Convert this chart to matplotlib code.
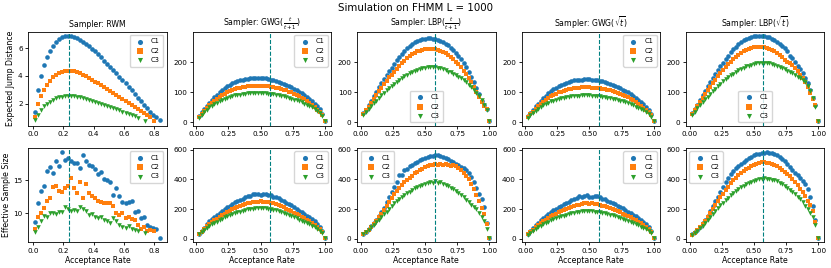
import matplotlib
matplotlib.use("Agg")
import matplotlib.pyplot as plt

# ---------------- data ----------------
series_names = ["C1", "C2", "C3"]
suptitle = "Simulation on FHMM L = 1000"
titles = ["Sampler: RWM", r"Sampler: GWG($\frac{t}{t+1}$)", r"Sampler: LBP($\frac{t}{t+1}$)",
          r"Sampler: GWG($\sqrt{t}$)", r"Sampler: LBP($\sqrt{t}$)"]
row_ylabels = ["Expected Jump Distance", "Effective Sample Size"]
xlabel = "Acceptance Rate"
optimal_rate = [0.234, 0.574, 0.574, 0.574, 0.574]

# RWM acceptance rates (differ per chain)
rwm_x_c1 = [0.01, 0.03, 0.05, 0.07, 0.09, 0.11, 0.13, 0.15, 0.17, 0.19, 0.21, 0.23, 0.25, 0.27,
            0.29, 0.31, 0.33, 0.35, 0.37, 0.39, 0.41, 0.43, 0.45, 0.47, 0.49, 0.51, 0.53, 0.55,
            0.57, 0.59, 0.61, 0.63, 0.65, 0.67, 0.69, 0.71, 0.73, 0.75, 0.77, 0.79, 0.81, 0.84]
rwm_x_c2 = [0.01, 0.03, 0.05, 0.07, 0.09, 0.11, 0.13, 0.15, 0.17, 0.19, 0.21, 0.23, 0.25, 0.27,
            0.29, 0.31, 0.33, 0.35, 0.37, 0.39, 0.41, 0.43, 0.45, 0.47, 0.49, 0.51, 0.53, 0.55,
            0.57, 0.59, 0.61, 0.63, 0.65, 0.67, 0.69, 0.71, 0.73, 0.75, 0.77, 0.80]
rwm_x_c3 = [0.01, 0.03, 0.05, 0.07, 0.09, 0.11, 0.13, 0.15, 0.17, 0.19, 0.21, 0.23, 0.25, 0.27,
            0.29, 0.31, 0.33, 0.35, 0.37, 0.39, 0.41, 0.43, 0.45, 0.47, 0.49, 0.51, 0.53, 0.55,
            0.57, 0.59, 0.61, 0.63, 0.65, 0.67, 0.69, 0.74]

rwm_ejd_c1 = [1.4, 3.0, 4.0, 4.75, 5.35, 5.75, 6.15, 6.45, 6.65, 6.8, 6.85, 6.87, 6.85, 6.8,
              6.72, 6.6, 6.45, 6.3, 6.12, 5.93, 5.75, 5.55, 5.33, 5.1, 4.88, 4.65, 4.42, 4.18,
              3.94, 3.7, 3.45, 3.2, 2.95, 2.7, 2.44, 2.18, 1.92, 1.66, 1.42, 1.2, 1.05, 0.8]
rwm_ejd_c2 = [1.05, 1.95, 2.55, 3.0, 3.35, 3.65, 3.9, 4.07, 4.22, 4.3, 4.35, 4.38, 4.36, 4.32,
              4.26, 4.18, 4.08, 3.97, 3.85, 3.72, 3.58, 3.45, 3.31, 3.17, 3.03, 2.89, 2.75, 2.61,
              2.47, 2.33, 2.19, 2.05, 1.91, 1.77, 1.63, 1.49, 1.35, 1.2, 1.07, 0.78]
rwm_ejd_c3 = [0.8, 1.2, 1.55, 1.8, 2.0, 2.15, 2.28, 2.38, 2.45, 2.5, 2.53, 2.55, 2.54, 2.52,
              2.49, 2.45, 2.4, 2.34, 2.28, 2.21, 2.14, 2.07, 2.0, 1.92, 1.84, 1.76, 1.68, 1.6,
              1.52, 1.43, 1.35, 1.26, 1.17, 1.08, 0.99, 0.72]

rwm_ess_c1 = [8.7, 11.6, 13.4, 14.2, 16.5, 17.1, 16.1, 17.9, 17.2, 19.3, 18.1, 18.4, 17.9, 17.6,
              17.6, 16.9, 18.9, 17.9, 17.4, 17.2, 16.7, 16.0, 16.3, 15.2, 15.1, 14.75, 12.8, 13.9,
              12.6, 11.7, 11.5, 11.8, 11.9, 10.2, 10.3, 9.3, 9.5, 8.2, 8.0, 7.8, 7.6, 6.3]
rwm_ess_c2 = [7.67, 9.4, 10.1, 10.8, 11.9, 12.4, 14.0, 14.2, 13.4, 13.2, 13.8, 14.2, 15.3, 13.8,
              13.1, 14.75, 12.4, 14.4, 13.1, 12.6, 12.4, 11.9, 11.8, 11.6, 11.6, 11.5, 11.1, 10.0,
              9.8, 10.1, 9.3, 9.4, 9.2, 9.0, 8.3, 7.6, 7.9, 7.3, 7.5, 7.3]
rwm_ess_c3 = [7.1, 8.0, 8.8, 9.6, 9.5, 10.1, 10.1, 9.9, 10.15, 10.15, 10.9, 10.6, 10.4, 10.5,
              10.4, 11.0, 10.6, 10.4, 9.8, 9.9, 9.5, 9.3, 9.5, 9.0, 8.9, 8.5, 9.3, 8.8,
              8.3, 8.0, 7.8, 8.1, 7.6, 7.4, 7.3, 7.0]

# acceptance-rate grid for the locally balanced samplers
acc_grid = [0.02, 0.04, 0.06, 0.08, 0.10, 0.12, 0.14, 0.16, 0.18, 0.20,
            0.22, 0.24, 0.26, 0.28, 0.30, 0.32, 0.34, 0.36, 0.38, 0.40,
            0.42, 0.44, 0.46, 0.48, 0.50, 0.52, 0.54, 0.56, 0.58, 0.60,
            0.62, 0.64, 0.66, 0.68, 0.70, 0.72, 0.74, 0.76, 0.78, 0.80,
            0.82, 0.84, 0.86, 0.88, 0.90, 0.92, 0.94, 0.96, 0.98, 1.00]

gwg_frac_ejd_c1 = [21, 33, 44, 55, 65, 74, 83, 92, 100, 108, 114, 120, 125, 129, 133, 136, 139, 141, 143, 145,
                   146, 147, 148, 148, 147, 147, 146, 144, 142, 140, 137, 134, 131, 128, 125, 121, 116, 112, 107, 102,
                   96, 90, 84, 77, 70, 62, 53, 43, 28, 2]
gwg_frac_ejd_c2 = [16, 27, 37, 47, 56, 64, 71, 78, 84, 90, 95, 99, 103, 107, 110, 113, 115, 117, 118, 119,
                   120, 121, 121, 121, 121, 120, 120, 119, 118, 117, 115, 113, 111, 108, 106, 102, 99, 95, 91, 86,
                   81, 76, 70, 64, 57, 50, 42, 33, 22, 3]
gwg_frac_ejd_c3 = [14, 24, 33, 41, 49, 55, 60, 65, 70, 74, 77, 80, 83, 86, 89, 91, 92, 94, 95, 96,
                   96, 97, 97, 97, 97, 96, 96, 95, 94, 93, 91, 89, 87, 86, 84, 81, 78, 75, 73, 70,
                   66, 62, 58, 54, 49, 43, 37, 29, 19, 3]

lbp_frac_ejd_c1 = [30, 42, 57, 72, 86, 101, 116, 130, 144, 157, 170, 182, 194, 206, 217, 228, 237, 246, 254, 261,
                   267, 272, 275, 277, 279, 280, 280, 279, 277, 275, 272, 268, 262, 256, 249, 240, 231, 221, 210, 197,
                   183, 168, 152, 134, 114, 93, 72, 58, 45, 3]
lbp_frac_ejd_c2 = [28, 39, 52, 65, 78, 91, 103, 115, 127, 138, 149, 159, 169, 179, 188, 197, 205, 213, 220, 226,
                   231, 236, 239, 242, 244, 245, 245, 245, 244, 242, 239, 235, 230, 224, 217, 210, 202, 193, 183, 172,
                   160, 147, 133, 118, 101, 84, 67, 55, 44, 3]
lbp_frac_ejd_c3 = [25, 34, 44, 54, 63, 72, 81, 90, 98, 106, 114, 121, 128, 135, 141, 147, 153, 158, 163, 167,
                   171, 175, 178, 180, 182, 183, 184, 184, 183, 182, 180, 177, 173, 169, 166, 162, 157, 152, 146, 140,
                   133, 125, 117, 108, 98, 86, 73, 58, 42, 3]

gwg_sqrt_ejd_c1 = [20, 31, 42, 53, 62, 71, 80, 88, 96, 103, 110, 115, 120, 125, 128, 132, 134, 137, 139, 140,
                   141, 142, 143, 143, 143, 142, 141, 140, 138, 136, 133, 130, 127, 124, 121, 117, 113, 108, 104, 99,
                   93, 87, 81, 75, 68, 60, 51, 41, 27, 2]
gwg_sqrt_ejd_c2 = [16, 26, 35, 45, 53, 61, 68, 75, 81, 86, 91, 95, 99, 102, 105, 108, 110, 112, 113, 114,
                   115, 116, 116, 116, 116, 115, 115, 114, 113, 112, 110, 108, 106, 104, 101, 98, 95, 91, 87, 83,
                   78, 73, 67, 62, 55, 48, 41, 32, 22, 3]
gwg_sqrt_ejd_c3 = [13, 22, 30, 38, 45, 51, 56, 61, 65, 69, 72, 75, 78, 80, 82, 84, 85, 86, 87, 88,
                   88, 89, 89, 89, 89, 88, 88, 87, 86, 85, 84, 82, 80, 78, 76, 74, 72, 69, 66, 63,
                   60, 56, 52, 48, 44, 39, 33, 26, 18, 3]

lbp_sqrt_ejd_c1 = [30, 43, 58, 74, 89, 104, 119, 133, 147, 161, 174, 187, 199, 211, 222, 233, 243, 252, 260, 267,
                   273, 278, 282, 285, 287, 288, 288, 288, 287, 285, 283, 279, 274, 268, 262, 255, 247, 238, 222, 213,
                   200, 188, 176, 163, 148, 130, 108, 82, 56, 3]
lbp_sqrt_ejd_c2 = [28, 40, 53, 67, 80, 93, 106, 118, 130, 142, 153, 164, 174, 184, 193, 202, 210, 218, 225, 231,
                   237, 241, 245, 248, 250, 251, 251, 251, 250, 248, 245, 241, 236, 230, 224, 217, 209, 200, 196, 190,
                   180, 170, 159, 147, 133, 117, 98, 77, 57, 3]
lbp_sqrt_ejd_c3 = [25, 35, 46, 56, 66, 76, 85, 94, 103, 112, 120, 128, 136, 143, 150, 156, 162, 168, 173, 178,
                   182, 186, 189, 192, 194, 196, 197, 198, 198, 197, 196, 194, 191, 188, 185, 181, 177, 172, 167, 163,
                   158, 152, 146, 140, 133, 120, 103, 82, 52, 3]

gwg_frac_ess_c1 = [35, 55, 75, 98, 118, 131, 146, 160, 172, 186, 198, 212, 222, 232, 245, 253, 262, 270, 282, 287,
                   290, 300, 304, 301, 297, 299, 303, 293, 296, 284, 283, 272, 262, 255, 244, 232, 226, 214, 203, 190,
                   181, 169, 157, 146, 131, 118, 101, 80, 55, 9]
gwg_frac_ess_c2 = [32, 48, 66, 84, 98, 112, 124, 137, 148, 159, 170, 180, 190, 198, 206, 214, 222, 228, 233, 238,
                   243, 246, 250, 248, 252, 249, 251, 246, 243, 239, 233, 226, 218, 212, 203, 194, 186, 177, 168, 158,
                   148, 139, 128, 118, 107, 95, 82, 66, 45, 9]
gwg_frac_ess_c3 = [30, 44, 59, 73, 85, 97, 107, 117, 127, 135, 144, 151, 159, 166, 172, 178, 184, 189, 193, 198,
                   200, 204, 206, 207, 208, 206, 207, 203, 201, 196, 192, 186, 180, 174, 167, 160, 153, 146, 138, 130,
                   122, 114, 105, 97, 88, 78, 67, 55, 40, 8]

lbp_frac_ess_c1 = [32, 48, 66, 85, 106, 128, 152, 180, 210, 247, 283, 318, 350, 382, 428, 432, 462, 470, 488, 497,
                   510, 516, 530, 537, 545, 552, 556, 560, 567, 562, 558, 552, 545, 535, 525, 515, 503, 495, 485, 475,
                   460, 443, 415, 380, 345, 305, 265, 215, 110, 9]
lbp_frac_ess_c2 = [30, 46, 63, 82, 102, 123, 145, 168, 192, 218, 245, 272, 300, 322, 342, 362, 380, 398, 412, 425,
                   440, 452, 462, 470, 480, 488, 494, 500, 502, 495, 505, 500, 503, 497, 490, 495, 490, 478, 462, 446,
                   425, 400, 370, 335, 298, 255, 210, 170, 100, 9]
lbp_frac_ess_c3 = [30, 44, 60, 77, 95, 112, 130, 148, 165, 183, 200, 218, 238, 255, 268, 280, 292, 310, 318, 330,
                   340, 350, 355, 365, 370, 378, 382, 375, 387, 378, 380, 370, 365, 355, 345, 335, 320, 310, 295, 280,
                   262, 245, 230, 215, 200, 175, 150, 118, 65, 9]

gwg_sqrt_ess_c1 = [33, 53, 72, 93, 110, 126, 141, 154, 168, 180, 192, 203, 214, 224, 233, 242, 250, 262, 268, 274,
                   286, 281, 289, 292, 281, 284, 291, 287, 280, 271, 266, 258, 250, 243, 233, 224, 216, 205, 195, 184,
                   174, 163, 151, 140, 127, 114, 98, 78, 54, 9]
gwg_sqrt_ess_c2 = [30, 46, 62, 78, 93, 106, 118, 130, 141, 151, 161, 170, 178, 187, 194, 202, 208, 214, 220, 226,
                   231, 236, 238, 240, 236, 238, 233, 232, 228, 224, 219, 213, 207, 200, 193, 186, 178, 170, 162, 153,
                   144, 135, 125, 115, 104, 93, 80, 65, 45, 9]
gwg_sqrt_ess_c3 = [28, 41, 54, 67, 79, 89, 99, 108, 116, 124, 131, 138, 145, 151, 157, 162, 167, 172, 176, 180,
                   184, 186, 189, 190, 187, 189, 184, 183, 181, 177, 173, 169, 164, 159, 153, 148, 142, 135, 128, 121,
                   114, 107, 99, 91, 83, 74, 64, 52, 38, 8]

lbp_sqrt_ess_c1 = [30, 45, 62, 82, 104, 128, 155, 185, 218, 252, 285, 318, 350, 380, 408, 433, 455, 474, 490, 505,
                   518, 530, 542, 552, 562, 568, 573, 576, 580, 583, 578, 575, 568, 562, 552, 538, 524, 505, 485, 465,
                   445, 428, 410, 392, 370, 335, 285, 220, 130, 9]
lbp_sqrt_ess_c2 = [28, 43, 60, 79, 100, 122, 147, 172, 198, 225, 252, 280, 305, 330, 352, 374, 394, 412, 428, 442,
                   456, 468, 478, 490, 498, 505, 510, 514, 517, 512, 508, 504, 497, 488, 478, 466, 452, 437, 420, 402,
                   382, 360, 338, 313, 288, 258, 225, 185, 115, 9]
lbp_sqrt_ess_c3 = [28, 41, 56, 72, 90, 108, 128, 148, 168, 188, 207, 226, 244, 262, 278, 294, 308, 322, 335, 347,
                   358, 368, 377, 385, 392, 398, 400, 405, 409, 403, 405, 398, 393, 386, 377, 367, 356, 344, 330, 316,
                   300, 283, 265, 245, 224, 200, 175, 145, 93, 9]

rwm_xticks = [0.0, 0.2, 0.4, 0.6, 0.8]
rwm_xticklabels = ["0.0", "0.2", "0.4", "0.6", "0.8"]
grid_xticks = [0.0, 0.25, 0.5, 0.75, 1.0]
grid_xticklabels = ["0.00", "0.25", "0.50", "0.75", "1.00"]
ejd_rwm_yticks = [2, 4, 6]
ess_rwm_yticks = [10, 15]
ejd_yticks = [0, 100, 200]
ess_yticks = [0, 200, 400, 600]

# ---------------- plotting ----------------
colors = ["#1f77b4", "#ff7f0e", "#2ca02c"]
markers = ["o", "s", "v"]

panel_data = [
    [  # row 0: expected jump distance
        ([rwm_x_c1, rwm_x_c2, rwm_x_c3], [rwm_ejd_c1, rwm_ejd_c2, rwm_ejd_c3], "upper right"),
        ([acc_grid] * 3, [gwg_frac_ejd_c1, gwg_frac_ejd_c2, gwg_frac_ejd_c3], "upper right"),
        ([acc_grid] * 3, [lbp_frac_ejd_c1, lbp_frac_ejd_c2, lbp_frac_ejd_c3], "lower center"),
        ([acc_grid] * 3, [gwg_sqrt_ejd_c1, gwg_sqrt_ejd_c2, gwg_sqrt_ejd_c3], "upper right"),
        ([acc_grid] * 3, [lbp_sqrt_ejd_c1, lbp_sqrt_ejd_c2, lbp_sqrt_ejd_c3], "lower center"),
    ],
    [  # row 1: effective sample size
        ([rwm_x_c1, rwm_x_c2, rwm_x_c3], [rwm_ess_c1, rwm_ess_c2, rwm_ess_c3], "upper right"),
        ([acc_grid] * 3, [gwg_frac_ess_c1, gwg_frac_ess_c2, gwg_frac_ess_c3], "upper right"),
        ([acc_grid] * 3, [lbp_frac_ess_c1, lbp_frac_ess_c2, lbp_frac_ess_c3], "upper left"),
        ([acc_grid] * 3, [gwg_sqrt_ess_c1, gwg_sqrt_ess_c2, gwg_sqrt_ess_c3], "upper right"),
        ([acc_grid] * 3, [lbp_sqrt_ess_c1, lbp_sqrt_ess_c2, lbp_sqrt_ess_c3], "upper left"),
    ],
]

fig, axes = plt.subplots(2, 5, figsize=(8.31, 2.68), dpi=100)
fig.subplots_adjust(left=0.034, right=0.992, top=0.882, bottom=0.097, wspace=0.188, hspace=0.235)

for r in range(2):
    for c in (2, 3, 4):
        axes[r, c].sharey(axes[r, 1])

for r in range(2):
    for c in range(5):
        ax = axes[r, c]
        xs, ys, loc = panel_data[r][c]
        for k in range(3):
            ax.scatter(xs[k], ys[k], s=11, marker=markers[k], color=colors[k],
                       label=series_names[k], linewidths=0, zorder=2)
        ax.axvline(optimal_rate[c], color="teal", ls="--", lw=0.8, zorder=3)
        ax.legend(loc=loc, fontsize=4.9, borderpad=0.5, handletextpad=0.6,
                  labelspacing=0.5, framealpha=0.8, markerscale=1.1)
        if c == 0:
            ax.set_xticks(rwm_xticks)
            ax.set_xticklabels(rwm_xticklabels)
            ax.set_yticks(ejd_rwm_yticks if r == 0 else ess_rwm_yticks)
            ax.set_ylabel(row_ylabels[r], fontsize=5.6, labelpad=2)
        else:
            ax.set_xticks(grid_xticks)
            ax.set_xticklabels(grid_xticklabels)
            ax.set_yticks(ejd_yticks if r == 0 else ess_yticks)
        ax.tick_params(labelsize=5.2, length=2.5, width=0.6, pad=1.5)
        for sp in ax.spines.values():
            sp.set_linewidth(0.6)
        if r == 0:
            ax.set_title(titles[c], fontsize=5.6, pad=3)
        else:
            ax.set_xlabel(xlabel, fontsize=5.6, labelpad=2)

fig.suptitle(suptitle, fontsize=7.4, y=0.988, va="top")
fig.savefig("out.png", dpi=100)
